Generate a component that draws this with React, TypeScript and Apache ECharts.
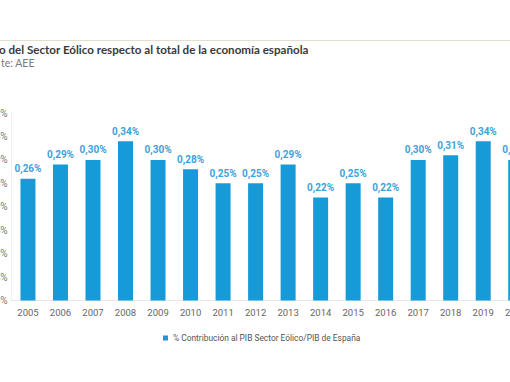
import React, { useEffect, useRef } from "react";
import * as echarts from "echarts";

const years = ["2005","2006","2007","2008","2009","2010","2011","2012","2013","2014","2015","2016","2017","2018","2019","2020"];
const contribution = [0.26,0.29,0.30,0.34,0.30,0.28,0.25,0.25,0.29,0.22,0.25,0.22,0.30,0.31,0.34,0.30];
const seriesName = "% Contribución al PIB Sector Eólico/PIB de España";
const titleText = "o del Sector Eólico respecto al total de la economía española";
const sourceText = "te: AEE";

const fmt = (v: number) => v.toFixed(2).replace(".", ",") + "%";

export default function App() {
  const ref = useRef<HTMLDivElement>(null);
  useEffect(() => {
    const chart = echarts.init(ref.current!, null, { renderer: "svg" });
    chart.setOption({
      animation: false,
      backgroundColor: "#ffffff",
      textStyle: { fontFamily: "Roboto" },
      graphic: [
        { type: "line", shape: { x1: 0, y1: 40.5, x2: 510, y2: 40.5 }, style: { stroke: "#e2dfcc", lineWidth: 1 } },
        { type: "text", left: -1, top: 43, style: { text: titleText, fill: "#3a3a3a", font: "bold 11.6px Lato" } },
        { type: "text", left: 1, top: 57, style: { text: sourceText, fill: "#7a7a7a", font: "10.5px Lato" } },
      ],
      grid: { left: 11.7, top: 113, width: 520.3, bottom: 81.5, containLabel: false, outerBoundsMode: "none" },
      legend: {
        left: 158, top: 329,
        itemWidth: 5, itemHeight: 5, itemGap: 3,
        icon: "rect",
        textStyle: { color: "#555", fontSize: 8.4, fontFamily: "Roboto" },
        data: [seriesName],
      },
      xAxis: {
        type: "category",
        data: years,
        axisLine: { show: true, lineStyle: { color: "#e8e8e8" } },
        axisTick: { show: false },
        axisLabel: { color: "#666", fontSize: 9.5, margin: 7, fontFamily: "Roboto" },
      },
      yAxis: {
        type: "value",
        min: 0, max: 0.4, interval: 0.05,
        axisLine: { show: true, lineStyle: { color: "#f0f0f0" } },
        axisTick: { show: false },
        splitLine: { show: false },
        axisLabel: { color: "#777", fontSize: 10, margin: 4, formatter: (v: number) => fmt(v), fontFamily: "Roboto" },
      },
      series: [
        {
          name: seriesName,
          type: "bar",
          data: contribution,
          barWidth: 15,
          itemStyle: { color: "#169ad8" },
          label: {
            show: true, position: "top", distance: 5,
            color: "#3ea2da", fontSize: 10, fontWeight: "bold", fontFamily: "Roboto",
            formatter: (p: any) => fmt(p.value),
          },
        },
      ],
    });
    return () => chart.dispose();
  }, []);
  return (
    <div style={{ position: "fixed", left: 0, top: 0, width: 510, height: 382, overflow: "hidden", background: "#fff" }}>
      <div ref={ref} style={{ width: 510, height: 382 }} />
    </div>
  );
}
